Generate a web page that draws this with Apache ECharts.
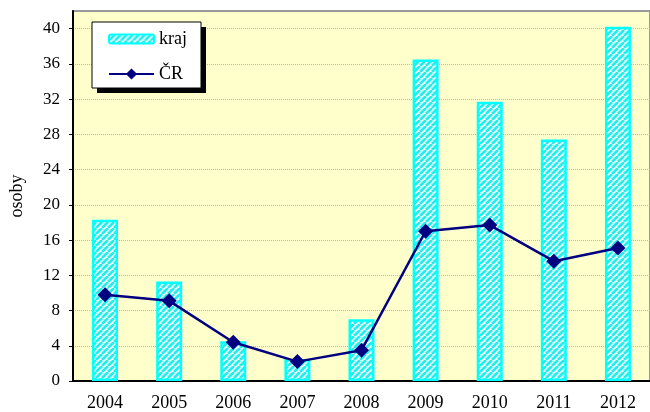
<!DOCTYPE html>
<html><head><meta charset="utf-8">
<script src="https://cdn.jsdelivr.net/npm/echarts@6/dist/echarts.min.js"></script>
<style>html,body{margin:0;padding:0;background:#fff}#c{width:650px;height:412px}</style>
</head><body><div id="c"></div>
<script>
const years = ['2004','2005','2006','2007','2008','2009','2010','2011','2012'];
const krajValues = [18.3, 11.3, 4.5, 2.5, 7.0, 36.5, 31.7, 27.4, 40.2];
const crValues = [9.8, 9.1, 4.4, 2.2, 3.5, 17.0, 17.7, 13.6, 15.1];
const yTickLabels = [0, 4, 8, 12, 16, 20, 24, 28, 32, 36, 40];
const yName = 'osoby';
const krajName = 'kraj';
const crName = 'ČR';

function hatch() {
  const s = 6;
  const c = document.createElement('canvas');
  c.width = s; c.height = s;
  const g = c.getContext('2d');
  g.fillStyle = '#ffffff';
  g.fillRect(0, 0, s, s);
  g.strokeStyle = '#22eeee';
  g.lineWidth = 2.8;
  g.beginPath();
  for (let k = -s; k <= 2 * s; k += s) { g.moveTo(k, s); g.lineTo(k + s, 0); }
  g.stroke();
  return c;
}
const pattern = { image: hatch(), repeat: 'repeat' };
const serif = 'Liberation Serif';

const chart = echarts.init(document.getElementById('c'));
chart.setOption({
  animation: false,
  grid: { left: 71, top: 11, right: -1, bottom: 30, show: true, backgroundColor: '#FFFFCC', borderColor: '#9a9a9a', borderWidth: 2 },
  graphic: [
    { type: 'rect', z: 3, shape: { x: 97, y: 27, width: 109, height: 66 }, style: { fill: '#000' } },
    { type: 'rect', z: 3, shape: { x: 92, y: 22, width: 109, height: 66 }, style: { fill: '#fff', stroke: '#000', lineWidth: 1 } }
  ],
  legend: [
    { data: [krajName], left: 108, top: 30, padding: 0, itemWidth: 45, itemHeight: 9, z: 5,
      textStyle: { fontFamily: serif, fontSize: 18, color: '#000' } },
    { data: [crName], left: 108, top: 65, padding: 0, itemWidth: 45, itemHeight: 14, z: 5,
      textStyle: { fontFamily: serif, fontSize: 18, color: '#000' } }
  ],
  xAxis: {
    type: 'category', data: years, boundaryGap: true,
    axisLine: { lineStyle: { color: '#000', width: 2 } },
    axisTick: { length: 5, lineStyle: { color: '#000' } },
    axisLabel: { fontFamily: serif, fontSize: 18, color: '#000', margin: 13 }
  },
  yAxis: {
    type: 'value', min: 0, max: 42, interval: 2,
    name: yName, nameLocation: 'middle', nameGap: 47,
    nameTextStyle: { fontFamily: serif, fontSize: 18, color: '#000' },
    axisLine: { show: true, lineStyle: { color: '#000', width: 2 } },
    axisTick: { show: true, length: 4, customValues: yTickLabels, lineStyle: { color: '#000' } },
    axisLabel: { customValues: yTickLabels, fontFamily: serif, fontSize: 17, color: '#000', margin: 13 },
    splitLine: { show: true, lineStyle: { color: '#b8b8b8', type: 'dotted', width: 1 } }
  },
  series: [
    { name: krajName, type: 'bar', data: krajValues, barWidth: 26,
      itemStyle: { color: pattern, borderColor: '#00FFFF', borderWidth: 2.5 } },
    { name: crName, type: 'line', data: crValues, symbol: 'diamond', symbolSize: 15,
      lineStyle: { color: '#000080', width: 2.5 }, itemStyle: { color: '#000080' } }
  ]
});
</script></body></html>
